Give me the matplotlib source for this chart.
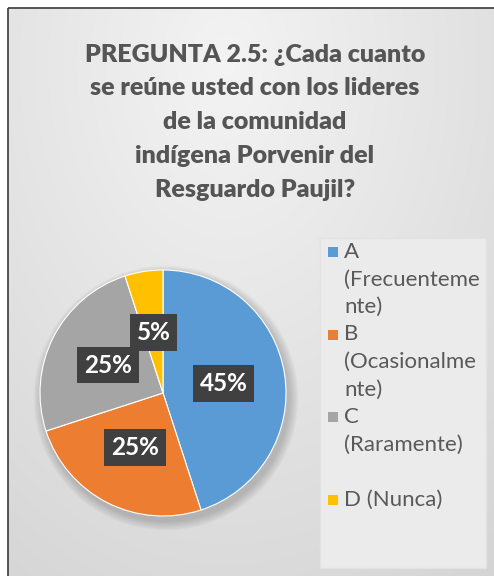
import numpy as np
import matplotlib.pyplot as plt
from matplotlib.patches import Rectangle, Circle

# data
categories = ["A", "B", "C", "D"]
legend_lines = [
    ["A", "(Frecuenteme", "nte)"],
    ["B", "(Ocasionalme", "nte)"],
    ["C", "(Raramente)", ""],
    ["D (Nunca)"],
]
values = [45, 25, 25, 5]
colors = ["#5B9BD5", "#ED7D31", "#A5A5A5", "#FFC000"]
title_lines = [
    "PREGUNTA 2.5: ¿Cada cuanto",
    "se reúne usted con los lideres",
    "de la comunidad",
    "indígena Porvenir del",
    "Resguardo Paujil?",
]

W, H = 494, 576
fig = plt.figure(figsize=(W / 100, H / 100), dpi=100)
fig.patch.set_facecolor("white")

# background axes in pixel coordinates
bg = fig.add_axes([0, 0, 1, 1])
bg.set_xlim(0, W)
bg.set_ylim(H, 0)
bg.axis("off")

# gradient chart area
x0, y0 = 8, 8
gx = np.linspace(0, 1, 200)
gy = np.linspace(0, 1, 240)
XX, YY = np.meshgrid(gx, gy)
d = np.sqrt(((XX - 0.45) / 0.9) ** 2 + ((YY - 0.1) / 1.1) ** 2)
lum = 0.955 - 0.12 * np.clip(d, 0, 1)
img = np.dstack([lum, lum, lum])
bg.imshow(img, extent=(x0, W, H, y0), aspect="auto", zorder=0)
bg.add_patch(Rectangle((x0, y0), W - x0 + 2, H - y0 + 2, fill=False,
                       edgecolor="#3a3a3a", lw=1.2, zorder=1))

# title
ty = [55, 88, 122, 156, 190]
for line, y in zip(title_lines, ty):
    bg.text(255, y, line, ha="center", va="center", fontsize=18,
            fontweight="heavy", family="Lato", color="#555555", zorder=3)

# legend box
bg.add_patch(Rectangle((320, 238), 166, 330, facecolor="#ebebeb",
                       edgecolor="#e2e2e2", lw=1, zorder=2))
line_h = 27.5
y = 252
for lines, c in zip(legend_lines, colors):
    bg.add_patch(Rectangle((328, y - 5), 10, 10, facecolor=c,
                           edgecolor="none", zorder=3))
    for ln in lines:
        if ln:
            bg.text(344, y, ln, ha="left", va="center", fontsize=16,
                    family="Lato", color="#595959", zorder=3)
        y += line_h

# pie
cx, cy, r = 163, 393, 123
# soft shadow
for k in range(8):
    bg.add_patch(Circle((cx + 3, cy + 5), r + 1 + k * 1.2, facecolor="#000000",
                        alpha=0.025, edgecolor="none", zorder=1.5))

ax = fig.add_axes([(cx - r) / W, 1 - (cy + r) / H, 2 * r / W, 2 * r / H])
wedges, texts, autotexts = ax.pie(
    values, colors=colors, startangle=90, counterclock=False,
    autopct="%1.0f%%", pctdistance=0.5,
    wedgeprops=dict(edgecolor="white", linewidth=0.8),
    textprops=dict(color="white", fontsize=17.5, fontweight="bold", family="Lato"),
)
for t in autotexts:
    t.set_bbox(dict(boxstyle="square,pad=0.28", facecolor="#404040",
                    edgecolor="none"))
ax.set_xlim(-1, 1)
ax.set_ylim(-1, 1)
ax.set_aspect("equal")
ax.axis("off")

fig.savefig("out.png", dpi=100)
